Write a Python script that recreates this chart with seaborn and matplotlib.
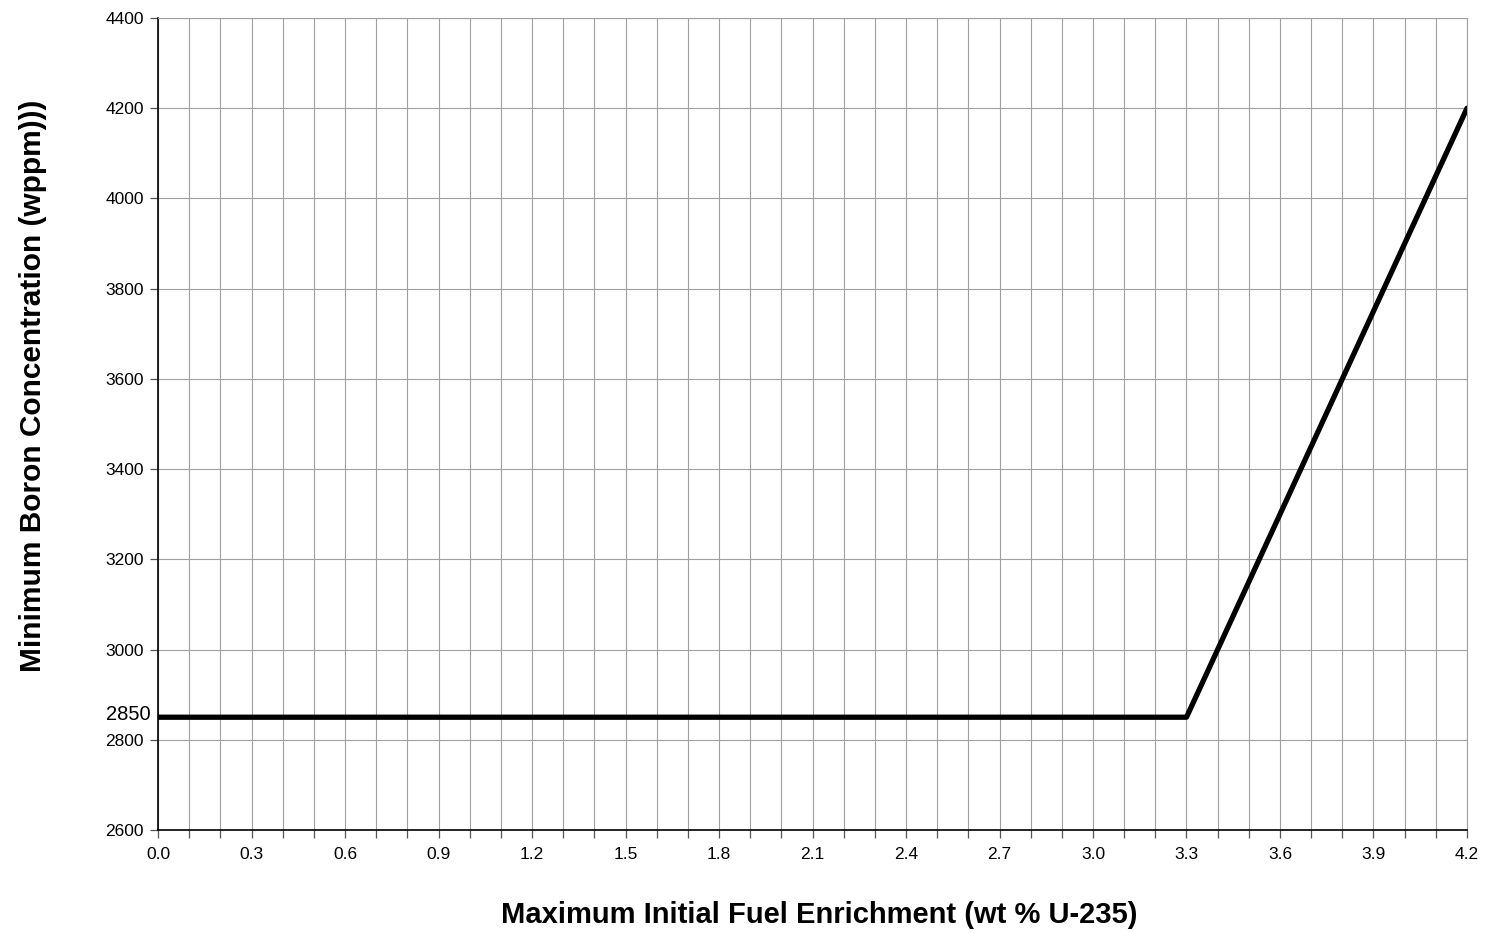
import matplotlib
matplotlib.use("Agg")
import matplotlib.pyplot as plt
import seaborn as sns
import numpy as np
import pandas as pd

enrichment = [0.0, 3.3, 4.2]
boron = [2850, 2850, 4200]
x_ticks = [0.0, 0.3, 0.6, 0.9, 1.2, 1.5, 1.8, 2.1, 2.4, 2.7, 3.0, 3.3, 3.6, 3.9, 4.2]
y_ticks = [2600, 2800, 3000, 3200, 3400, 3600, 3800, 4000, 4200, 4400]

sns.set_style("white")
plt.rcParams['font.family'] = ['Liberation Sans', 'DejaVu Sans']
plt.rcParams['text.color'] = 'black'
plt.rcParams['axes.labelcolor'] = 'black'
plt.rcParams['xtick.color'] = 'black'
plt.rcParams['ytick.color'] = 'black'

fig = plt.figure(figsize=(14.9, 9.33), dpi=100)
ax = fig.add_axes([158/1490, 1 - 830/933, (1467-158)/1490, (830-18)/933])

df = pd.DataFrame({"x": enrichment, "y": boron})
sns.lineplot(data=df, x="x", y="y", ax=ax, color="black", linewidth=3.8, zorder=5)

ax.set_xlim(0, 4.2)
ax.set_ylim(2600, 4400)
ax.set_xticks(x_ticks)
ax.set_xticklabels([f"{v:.1f}" for v in x_ticks], fontsize=12.5)
ax.set_xticks(np.round(np.arange(0, 4.21, 0.1), 2), minor=True)
ax.set_yticks(y_ticks)
ax.set_yticklabels([str(v) for v in y_ticks], fontsize=12.5)

ax.grid(True, which="both", axis="x", color="#a0a0a0", linewidth=0.8)
ax.grid(True, which="major", axis="y", color="#a0a0a0", linewidth=0.8)
ax.set_axisbelow(True)

ax.tick_params(axis="x", which="both", direction="out", length=6, width=0.9, color="#555555", bottom=True, pad=6)
ax.tick_params(axis="y", which="major", direction="out", length=6, width=0.9, color="#555555", left=True, pad=4)

for s in ["left", "bottom"]:
    ax.spines[s].set_color("black")
    ax.spines[s].set_linewidth(1.2)
for s in ["top", "right"]:
    ax.spines[s].set_color("#a0a0a0")
    ax.spines[s].set_linewidth(0.8)

ax.text(-0.006, 2856, "2850", transform=ax.get_yaxis_transform(), ha="right", va="center",
        fontsize=14.5)

ax.set_xlabel("Maximum Initial Fuel Enrichment (wt % U-235)", fontsize=21, fontweight="bold")
ax.xaxis.set_label_coords(0.505, -0.088)
ax.set_ylabel("Minimum Boron Concentration (wppm)))", fontsize=21.5, fontweight="bold")
ax.yaxis.set_label_coords(-0.085, 0.547)

fig.savefig("out.png", dpi=100)
